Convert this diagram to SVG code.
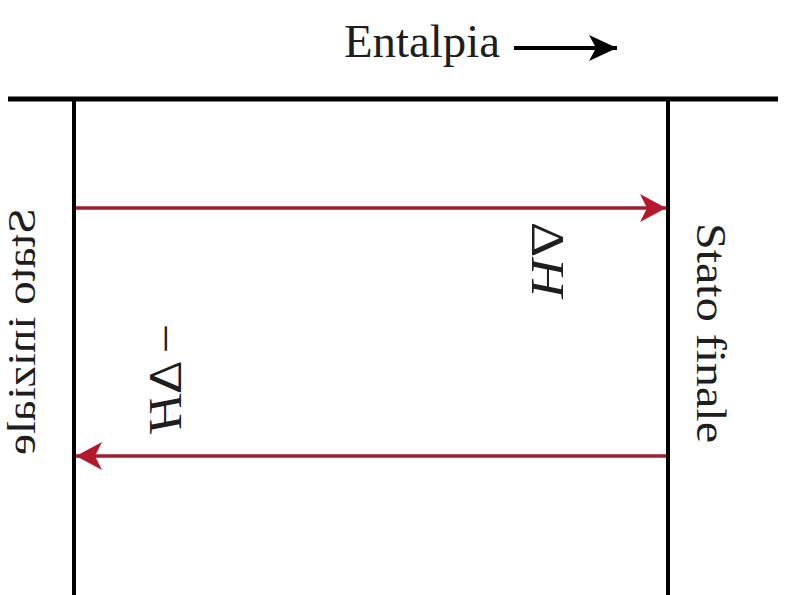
<svg xmlns="http://www.w3.org/2000/svg" width="785" height="595" viewBox="0 0 785 595">
<style>
.lbl{font-family:"Liberation Serif","Times New Roman",serif;fill:#1e1e1e}
.frame{stroke:#000;fill:none}
.red{stroke:#a11d2e;stroke-width:3.4;fill:none}
</style>
<defs>
<marker id="redHead" viewBox="0 0 26 28" refX="26" refY="14" markerWidth="26" markerHeight="28" markerUnits="userSpaceOnUse" orient="auto">
<path d="M0,0 L26,14 L0,28 L7,14 Z" fill="#b5182b"/>
</marker>
<marker id="blackHead" viewBox="0 0 28 26" refX="28" refY="13" markerWidth="28" markerHeight="26" markerUnits="userSpaceOnUse" orient="auto">
<path d="M0,0 L28,13 L0,26 L7,13 Z" fill="#000"/>
</marker>
</defs>
<rect width="785" height="595" fill="#fff"/>
<g id="frame">
<line class="frame" x1="8" y1="99" x2="778" y2="99" stroke-width="5"/>
<line class="frame" x1="74" y1="99" x2="74" y2="595" stroke-width="4"/>
<line class="frame" x1="668" y1="99" x2="668" y2="595" stroke-width="4"/>
</g>
<g id="entalpia">
<text class="lbl" x="344" y="57" font-size="46" textLength="156" lengthAdjust="spacingAndGlyphs">Entalpia</text>
<line x1="514" y1="48" x2="617" y2="48" stroke="#000" stroke-width="3.8" marker-end="url(#blackHead)"/>
</g>
<g id="stato-iniziale">
<text class="lbl" transform="matrix(0 1 1 0 35 208)" font-size="39" textLength="247" lengthAdjust="spacingAndGlyphs">Stato iniziale</text>
</g>
<g id="stato-finale">
<text class="lbl" transform="matrix(0 1 -1 0 697 223)" font-size="42" textLength="220" lengthAdjust="spacingAndGlyphs">Stato finale</text>
</g>
<g id="connectors">
<line class="red" x1="76" y1="208" x2="666" y2="208" marker-end="url(#redHead)"/>
<line class="red" x1="666" y1="456" x2="76" y2="456" marker-end="url(#redHead)"/>
</g>
<g id="label-dH">
<text class="lbl" transform="matrix(0 1 -1 0 532 222)" font-size="46" textLength="75" lengthAdjust="spacingAndGlyphs">Δ<tspan font-style="italic">H</tspan></text>
</g>
<g id="label-minus-dH">
<text class="lbl" transform="matrix(0 1 1 0 181 324)" font-size="46" textLength="108" lengthAdjust="spacingAndGlyphs">−<tspan dx="6">Δ</tspan><tspan font-style="italic">H</tspan></text>
</g>
</svg>
